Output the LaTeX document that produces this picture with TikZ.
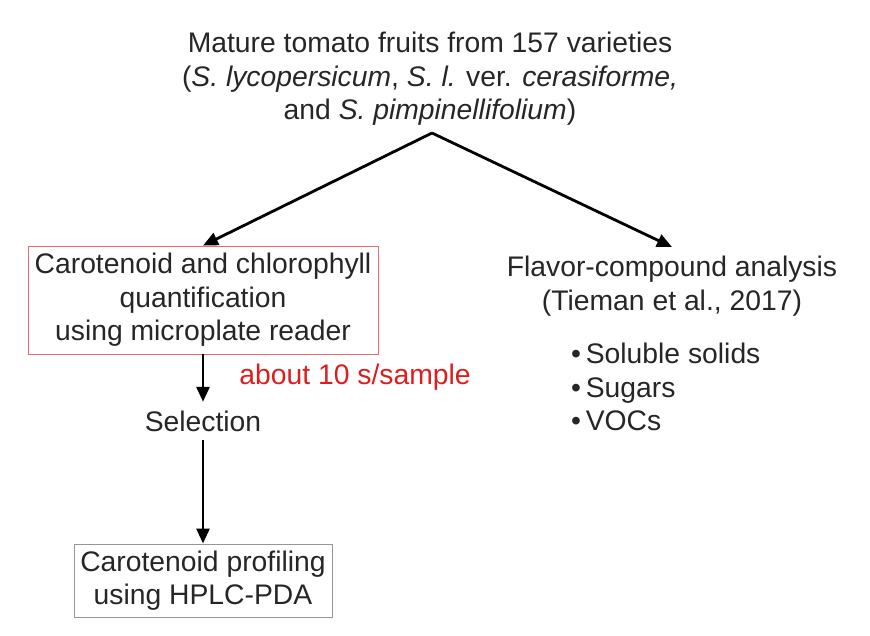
\documentclass[tikz,border=0pt]{standalone}
\usepackage{fontspec}
\setmainfont{Liberation Sans}
\usetikzlibrary{arrows.meta}
\definecolor{boxred}{RGB}{225,110,110}
\definecolor{txtred}{RGB}{220,30,30}
\definecolor{boxgray}{RGB}{150,150,150}
\begin{document}
\begin{tikzpicture}[x=1pt,y=-1pt,
  every node/.style={font=\fontsize{28.3}{33.5}\selectfont, text=black!85},
  arr/.style={line width=2.8pt, -{Stealth[length=15pt,width=13pt,inset=0pt]}},
  txt/.style={align=center, inner sep=0pt},
  redbox/.style={draw=boxred, line width=0.8pt, minimum width=350pt, minimum height=108pt, align=center, inner sep=0pt},
  graybox/.style={draw=boxgray, line width=1pt, minimum width=258pt, minimum height=73pt, align=center, inner sep=0pt}]
\useasboundingbox (0,0) rectangle (870,636);
\node[txt] (top) at (430,79) {Mature tomato fruits from 157 varieties\\(\textit{S. lycopersicum}, \textit{S. l.} ver. \textit{cerasiforme,}\\and \textit{S. pimpinellifolium})};
\coordinate (apex) at (432,133);
\node[redbox] (red) at (203,300) {Carotenoid and chlorophyll\\quantification\\using microplate reader};
\node[txt] (flav) at (672,286) {Flavor-compound analysis\\(Tieman et al., 2017)};
\coordinate (flavtop) at (672,247);
\node[txt, align=left, anchor=west] (list) at (571,387) {\textbullet\,Soluble solids\\\textbullet\,Sugars\\\textbullet\,VOCs};
\node[txt, text=txtred] (time) at (355,377) {about 10 s/sample};
\node[inner sep=0pt, minimum height=38pt] (sel) at (203,421) {Selection};
\node[graybox] (gray) at (203,580.5) {Carotenoid profiling\\using HPLC-PDA};
\draw[arr] (apex) -- (red.north);
\draw[arr] (apex) -- (flavtop);
\draw[arr] (red.south) -- (sel.north);
\draw[arr] (sel.south) -- (gray.north);
\end{tikzpicture}
\end{document}
